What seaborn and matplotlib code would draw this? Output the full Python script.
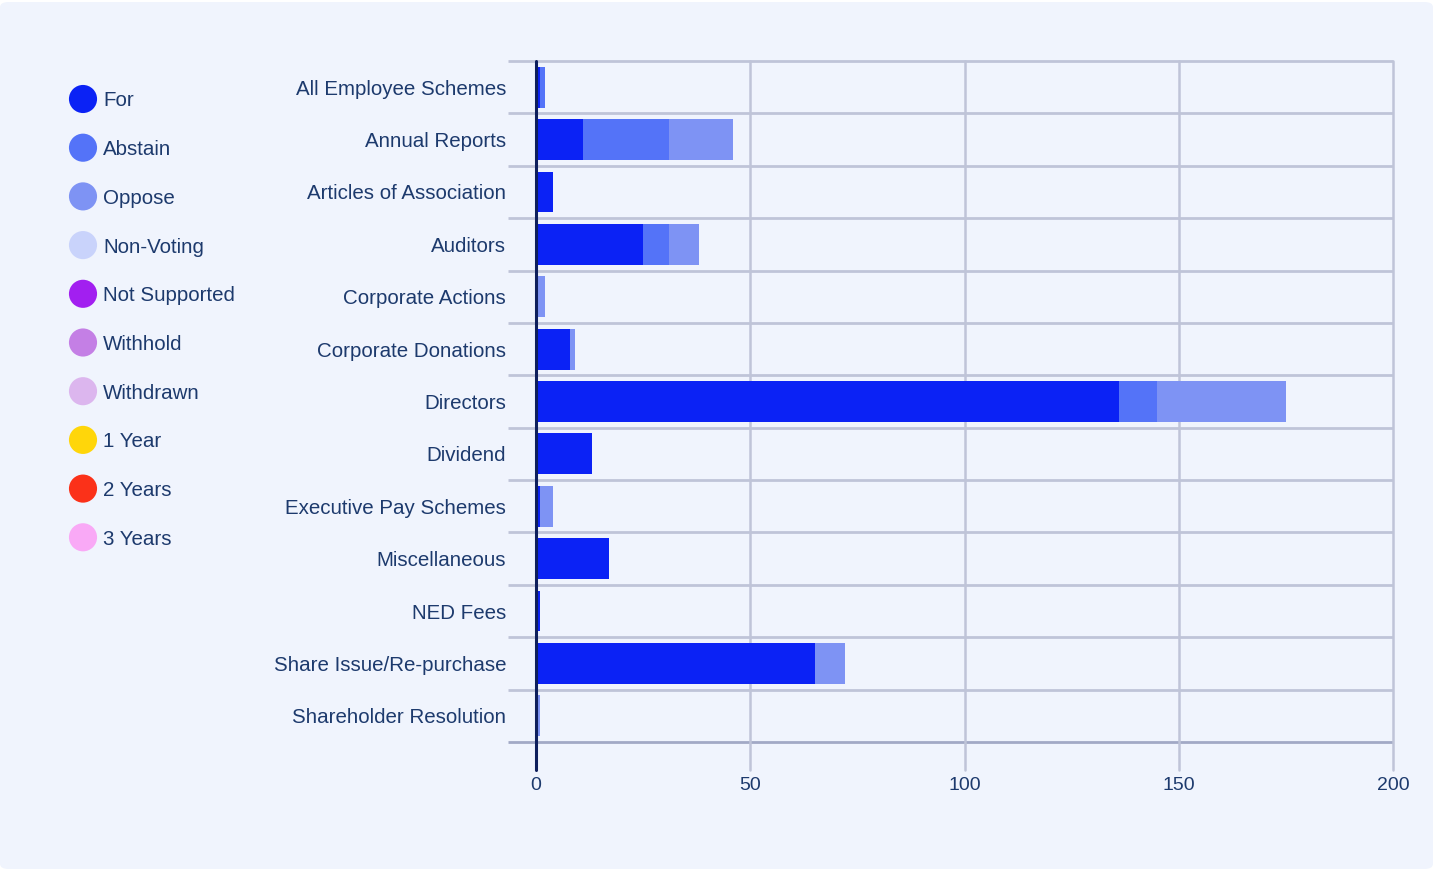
import matplotlib
matplotlib.use("Agg")
import matplotlib.pyplot as plt
import matplotlib.transforms as mtransforms
from matplotlib.patches import FancyBboxPatch
import seaborn as sns
import pandas as pd

# Vote counts per resolution category
categories = [
    "All Employee Schemes", "Annual Reports", "Articles of Association", "Auditors",
    "Corporate Actions", "Corporate Donations", "Directors", "Dividend",
    "Executive Pay Schemes", "Miscellaneous", "NED Fees",
    "Share Issue/Re-purchase", "Shareholder Resolution",
]
votes_for = [1, 11, 4, 25, 0, 8, 136, 13, 1, 17, 1, 65, 0]
votes_abstain = [1, 20, 0, 6, 0, 0, 9, 0, 0, 0, 0, 0, 0]
votes_oppose = [0, 15, 0, 7, 2, 1, 30, 0, 3, 0, 0, 7, 1]

legend_labels = ["For", "Abstain", "Oppose", "Non-Voting", "Not Supported",
                 "Withhold", "Withdrawn", "1 Year", "2 Years", "3 Years"]
legend_colors = ["#0b22f5", "#5473f8", "#7e93f4", "#c9d3fb", "#a21ff0",
                 "#c47fe5", "#dcb6ee", "#ffd60a", "#fb3119", "#f9a9f6"]

x_ticks = [0, 50, 100, 150, 200]

BG = "#f0f4fd"
TEXT = "#1d3a6d"
GRID = "#bfc4d8"

sns.set_theme(style="white")
plt.rcParams["font.family"] = ["Liberation Sans", "DejaVu Sans"]

W, H = 1445, 869
fig = plt.figure(figsize=(W / 100, H / 100), dpi=100, facecolor="white")
card = FancyBboxPatch((0, 0), 1433 / W, 867 / H, boxstyle="round,pad=0,rounding_size=0.006",
                      transform=fig.transFigure, facecolor=BG, edgecolor="none", zorder=-10)
fig.patches.append(card)

# plot area in pixels: x 536..1393, y 61..742
left, right, top, bottom = 536, 1393, 61, 742
ax = fig.add_axes([left / W, 1 - bottom / H, (right - left) / W, (bottom - top) / H])
ax.set_facecolor(BG)

df = pd.DataFrame({
    "category": categories,
    "for": votes_for,
    "abstain": votes_abstain,
    "oppose": votes_oppose,
})
df["cum_abstain"] = df["for"] + df["abstain"]
df["cum_oppose"] = df["cum_abstain"] + df["oppose"]

# stacked bars drawn as overlapping cumulative layers
layers = [("cum_oppose", legend_colors[2]), ("cum_abstain", legend_colors[1]), ("for", legend_colors[0])]
for col, color in layers:
    sns.barplot(data=df, y="category", x=col, orient="h", color=color, width=0.78,
                saturation=1, edgecolor="none", linewidth=0, ax=ax, zorder=3)

n = len(categories)
ax.set_xlim(0, 200)
ax.set_ylim(n - 0.5, -0.5)

# category separators extend left of the zero line
trans = mtransforms.blended_transform_factory(ax.transAxes, ax.transData)
ext = -28 / (right - left)
for i in range(n + 1):
    y = i - 0.5
    c = "#a2a9c6" if i == n else GRID
    ax.plot([ext, 1.0], [y, y], transform=trans, color=c, lw=2, clip_on=False, zorder=1,
            solid_capstyle="butt")

# vertical grid lines running down into the tick area
trans_v = mtransforms.blended_transform_factory(ax.transData, ax.transAxes)
drop = -28 / (bottom - top)
for xv in x_ticks[1:]:
    ax.plot([xv, xv], [drop, 1.0], transform=trans_v, color=GRID, lw=1.8, clip_on=False, zorder=1)
ax.plot([0, 0], [drop, 1.0], transform=trans_v, color="#0e1f5c", lw=2.2, clip_on=False, zorder=5)

for s in ax.spines.values():
    s.set_visible(False)
ax.set_xlabel("")
ax.set_ylabel("")
ax.set_xticks(x_ticks)
ax.set_xticklabels([str(t) for t in x_ticks])
ax.tick_params(axis="x", length=0, pad=25, labelsize=14, labelcolor=TEXT)
ax.tick_params(axis="y", length=0, pad=21.5, labelsize=14.8, labelcolor=TEXT)

# legend column
lax = fig.add_axes([0, 0, 1, 1], facecolor="none")
lax.set_xlim(0, W)
lax.set_ylim(H, 0)
lax.axis("off")
for i, (lab, col) in enumerate(zip(legend_labels, legend_colors)):
    y = 99 + i * 48.7
    lax.scatter([83], [y], s=410, color=col, edgecolors="none")
    lax.text(103, y + 2, lab, va="center", ha="left", fontsize=14.8, color=TEXT)

fig.savefig("out.png", dpi=100, facecolor=fig.get_facecolor())
